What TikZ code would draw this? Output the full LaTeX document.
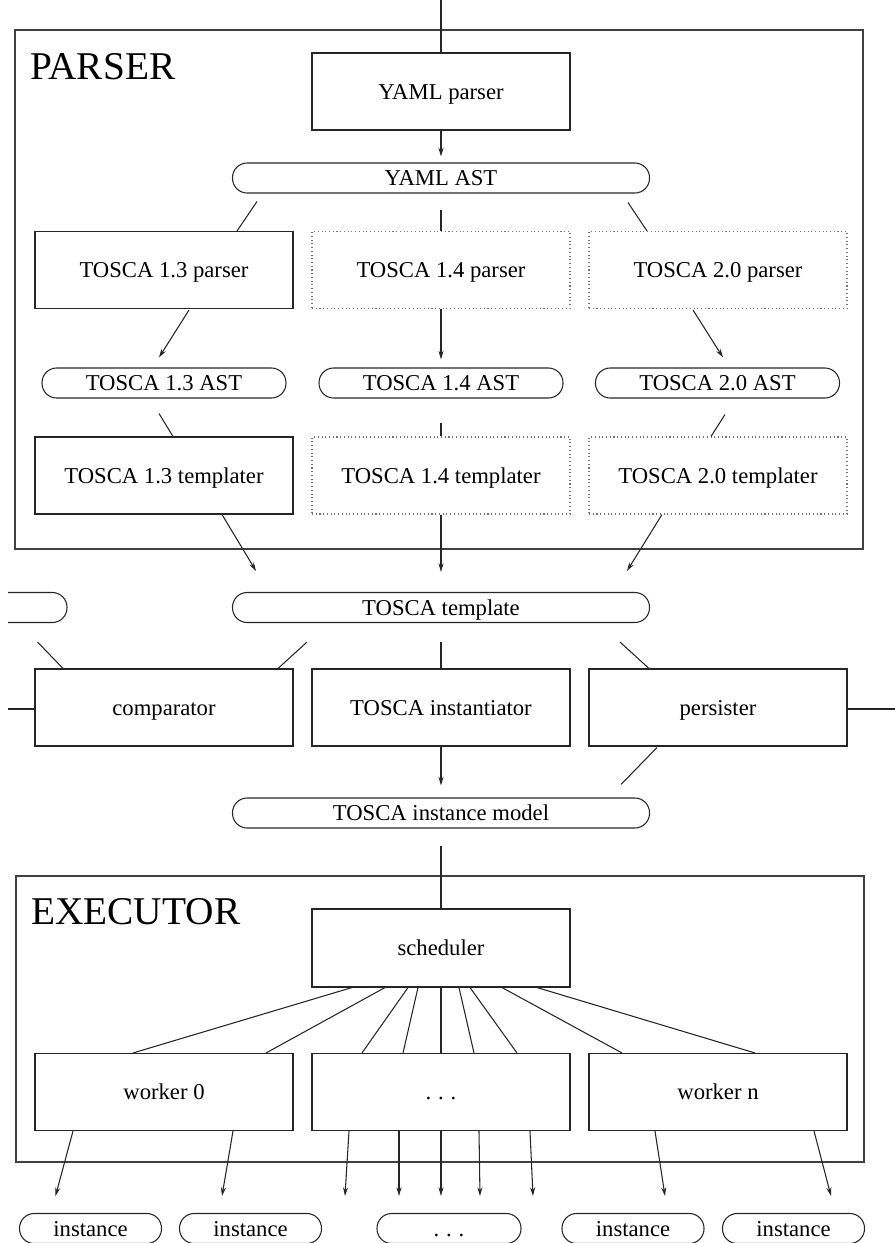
\documentclass[tikz,border=0pt]{standalone}
\usepackage{fontspec}
\setmainfont{Liberation Serif}
\usetikzlibrary{arrows.meta,calc}
\newcommand{\spdots}{.\hspace{0.3em}.\hspace{0.3em}.}
\begin{document}
\begin{tikzpicture}[x=0.75pt,y=-0.75pt,
  every node/.style={font=\fontsize{17}{20}\selectfont, text height=11.4pt, text depth=0pt},
  ln/.style={line width=0.8pt, draw=black!85},
  box/.style={ln, rectangle, minimum width=193.5pt, minimum height=57.75pt, inner sep=0pt},
  dbox/.style={box, dotted, draw=black!55},
  pill/.style={ln, rounded corners=11pt, minimum height=22.5pt, inner sep=0pt},
  wide/.style={pill, minimum width=312.75pt},
  astpill/.style={pill, minimum width=183pt},
  inpill/.style={pill, minimum width=106.5pt},
  frame/.style={ln, draw=black!75},
  arr/.style={ln, -{Stealth[length=6.5pt,width=3.8pt]}},
  title/.style={font=\fontsize{29.5}{31}\selectfont, anchor=base west, inner sep=0pt, text height=, text depth=}]
\useasboundingbox (0,0) rectangle (895,1243);
\clip (8,0) rectangle (895,1243);

% frames
\draw[frame] (15,30) rectangle (863,549);
\node[title] (plabel) at (30,79) {PARSER};
\draw[frame] (16,876) rectangle (864,1162);
\node[title] (elabel) at (31,924) {EXECUTOR};

% parser nodes
\node[box] (yamlp) at (441,91.5) {YAML parser};
\node[wide] (yamlast) at (441,178) {YAML AST};
\node[box] (t13p) at (164,270) {TOSCA 1.3 parser};
\node[dbox] (t14p) at (441,270) {TOSCA 1.4 parser};
\node[dbox] (t20p) at (718,270) {TOSCA 2.0 parser};
\node[astpill] (t13a) at (164,383) {TOSCA 1.3 AST};
\node[astpill] (t14a) at (441,383) {TOSCA 1.4 AST};
\node[astpill] (t20a) at (717.5,383) {TOSCA 2.0 AST};
\node[box] (t13t) at (164,475.5) {TOSCA 1.3 templater};
\node[dbox] (t14t) at (441,475.5) {TOSCA 1.4 templater};
\node[dbox] (t20t) at (718,475.5) {TOSCA 2.0 templater};

% middle
\node[wide] (ttmpl) at (441,607.5) {TOSCA template};
\node[wide] (prev) at (-141.5,607.5) {};
\node[box] (comp) at (164,707.5) {comparator};
\node[box] (inst) at (441,707.5) {TOSCA instantiator};
\node[box] (pers) at (718,707.5) {persister};
\node[wide] (tim) at (441,813) {TOSCA instance model};

% executor
\node[box, minimum height=58.5pt] (sched) at (441,948) {scheduler};
\node[box] (w0) at (164,1092) {worker 0};
\node[box] (wd) at (441,1092) {\spdots};
\node[box] (wn) at (718,1092) {worker n};

\node[inpill] (i1) at (90.5,1228.5) {instance};
\node[inpill] (i2) at (250.5,1228.5) {instance};
\node[pill, minimum width=108pt] (id) at (449,1228.5) {\spdots};
\node[inpill] (i4) at (633,1228.5) {instance};
\node[inpill] (i5) at (793.5,1228.5) {instance};

% connectors
\coordinate (topin) at (441,0);
\draw[ln] (topin) -- (yamlp.north);
\draw[arr, shorten >=4.5pt] (yamlp.south) -- (yamlast.north);

\draw[ln] ($(yamlast.south)+(-184,8)$) -- ($(t13p.north)+(73,0)$);
\draw[ln] ($(yamlast.south)+(0,16)$) -- (t14p.north);
\draw[ln] ($(yamlast.south)+(187,9)$) -- ($(t20p.north)+(-71,0)$);

\draw[arr] ($(t13p.south)+(25,1)$) -- ($(t13a.north)+(-5,-10)$);
\draw[arr, shorten >=6pt] (t14p.south) -- (t14a.north);
\draw[arr] ($(t20p.south)+(-25,1)$) -- ($(t20a.north)+(5.5,-10)$);

\draw[ln] ($(t13a.south)+(-5,15)$) -- ($(t13t.north)+(9,0)$);
\draw[ln] ($(t14a.south)+(0,24)$) -- (t14t.north);
\draw[ln] ($(t20a.south)+(7.5,16)$) -- ($(t20t.north)+(-7,0)$);

\draw[arr] ($(t13t.south)+(58,0)$) -- ($(ttmpl.north)+(-185,-21)$);
\draw[arr, shorten >=15pt] (t14t.south) -- (ttmpl.north);
\draw[arr] ($(t20t.south)+(-56,0)$) -- ($(ttmpl.north)+(186,-21)$);

\draw[ln] ($(prev.south east)+(-30,19)$) -- ($(comp.north)+(-101,0)$);
\draw[ln] ($(ttmpl.south)+(-134,19)$) -- ($(comp.north)+(114,0)$);
\draw[ln] ($(ttmpl.south)+(0,19)$) -- (inst.north);
\draw[ln] ($(ttmpl.south)+(179,19)$) -- ($(pers.north)+(-69,0)$);
\coordinate (lin) at (0,709);
\draw[ln] (lin) -- (comp.west |- lin);
\coordinate (rout) at (895,709);
\draw[ln] (pers.east |- rout) -- (rout);

\draw[arr, shorten >=9pt] (inst.south) -- (tim.north);
\draw[ln] ($(pers.south)+(-61,1)$) -- ($(tim.north)+(180,-13)$);
\draw[ln] ($(tim.south)+(0,17)$) -- (sched.north);

\foreach \s/\t/\e in {-89/w0/-31, -56/w0/102, -33/wd/-79, -23/wd/-38, 0/wd/0, 18/wd/33, 29/wd/76, 61/wn/-96, 96/wn/37}
  \draw[ln] ($(sched.south)+(\s,0)$) -- ($(\t.north)+(\e,0)$);

\foreach \w/\s/\p/\e in {w0/-91/i1/-35, w0/69/i2/-28.5, wd/-92/id/-104, wd/-42/id/-50, wd/0/id/-8, wd/38/id/31, wd/89/id/84, wn/-63/i4/32, wn/96/i5/37.5}
  \draw[arr] ($(\w.south)+(\s,0)$) -- ($(\p.north)+(\e,-17)$);
\end{tikzpicture}
\end{document}
